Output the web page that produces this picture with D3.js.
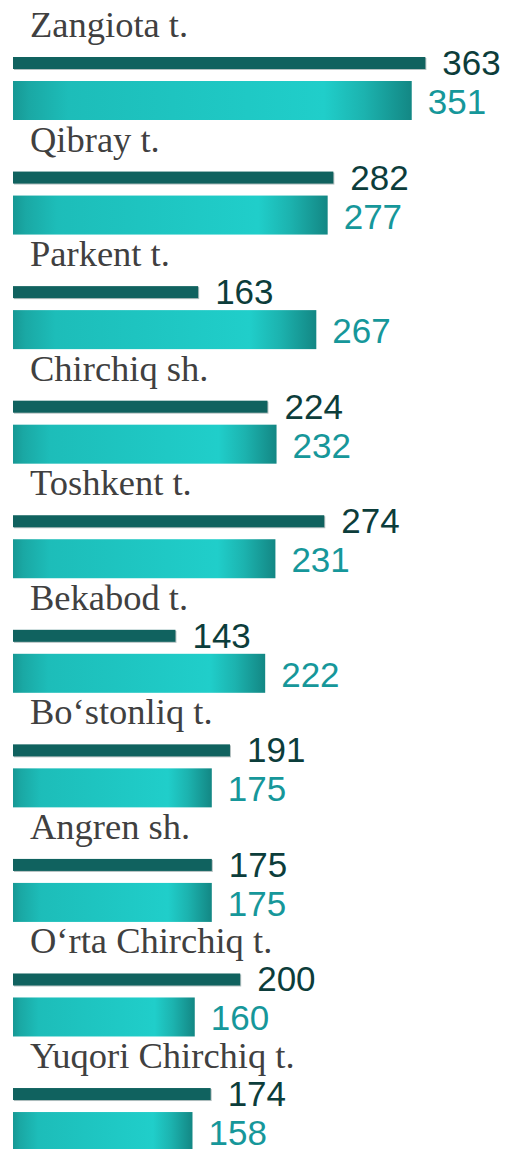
<!DOCTYPE html>
<html>
<head>
<meta charset="utf-8">
<script src="https://cdn.jsdelivr.net/npm/d3@7"></script>
<style>
  html, body { margin: 0; padding: 0; background: #fff; }
  svg { display: block; }
</style>
</head>
<body>
<div class="chart-holder"></div>
<script>
// data
const categories = ['Zangiota t.', 'Qibray t.', 'Parkent t.', 'Chirchiq sh.', 'Toshkent t.',
  'Bekabod t.', 'Bo‘stonliq t.', 'Angren sh.', 'O‘rta Chirchiq t.', 'Yuqori Chirchiq t.'];
const darkValues = [363, 282, 163, 224, 274, 143, 191, 175, 200, 174];
const lightValues = [351, 277, 267, 232, 231, 222, 175, 175, 160, 158];

const width = 505, height = 1149;

const svg = d3.select('.chart-holder')
  .append('svg')
  .attr('width', width)
  .attr('height', height);

const x = d3.scaleLinear()
  .domain([0, 400])
  .range([13, 13 + 400 * 1.136]);

const y = d3.scaleBand()
  .domain(categories)
  .range([0, 114.56 * categories.length])
  .padding(0);

// gradient for the wide bars
const grad = svg.append('defs').append('linearGradient')
  .attr('id', 'barGrad')
  .attr('x1', '0%').attr('x2', '100%')
  .attr('y1', '0%').attr('y2', '0%');
[
  ['0%', '#179894'], ['4%', '#1aa8a4'], ['14%', '#1dbdb9'], ['40%', '#1ec4c0'],
  ['78%', '#20ceca'], ['88%', '#1cb3af'], ['100%', '#138784']
].forEach(s => grad.append('stop').attr('offset', s[0]).attr('stop-color', s[1]));

const data = categories.map((c, i) => ({ cat: c, dark: darkValues[i], light: lightValues[i] }));

const g = svg.selectAll('g.group')
  .data(data)
  .enter().append('g')
    .attr('class', 'group')
    .attr('transform', d => `translate(0,${y(d.cat)})`);

// category label
g.append('text')
  .attr('x', 30)
  .attr('y', 37)
  .attr('font-family', '"Liberation Serif", "Times New Roman", serif')
  .attr('font-size', 36.5)
  .attr('fill', '#404040')
  .text(d => d.cat);

// thin dark bar with a faint shadow
g.append('rect')
  .attr('x', x(0) + 1)
  .attr('y', 58)
  .attr('width', d => x(d.dark) - x(0))
  .attr('height', 12)
  .attr('fill', '#b4c0c0');
g.append('rect')
  .attr('x', x(0))
  .attr('y', 57)
  .attr('width', d => x(d.dark) - x(0))
  .attr('height', 12)
  .attr('fill', '#10625f');

g.append('text')
  .attr('x', d => x(d.dark) + 17)
  .attr('y', 75)
  .attr('font-family', '"Liberation Sans", Arial, sans-serif')
  .attr('font-size', 35)
  .attr('fill', '#0c3d3b')
  .text(d => d.dark);

// wide gradient bar
g.append('rect')
  .attr('x', x(0))
  .attr('y', 81)
  .attr('width', d => x(d.light) - x(0))
  .attr('height', 39)
  .attr('fill', 'url(#barGrad)');

g.append('text')
  .attr('x', d => x(d.light) + 16)
  .attr('y', 114)
  .attr('font-family', '"Liberation Sans", Arial, sans-serif')
  .attr('font-size', 35)
  .attr('fill', '#16979a')
  .text(d => d.light);
</script>
</body>
</html>
